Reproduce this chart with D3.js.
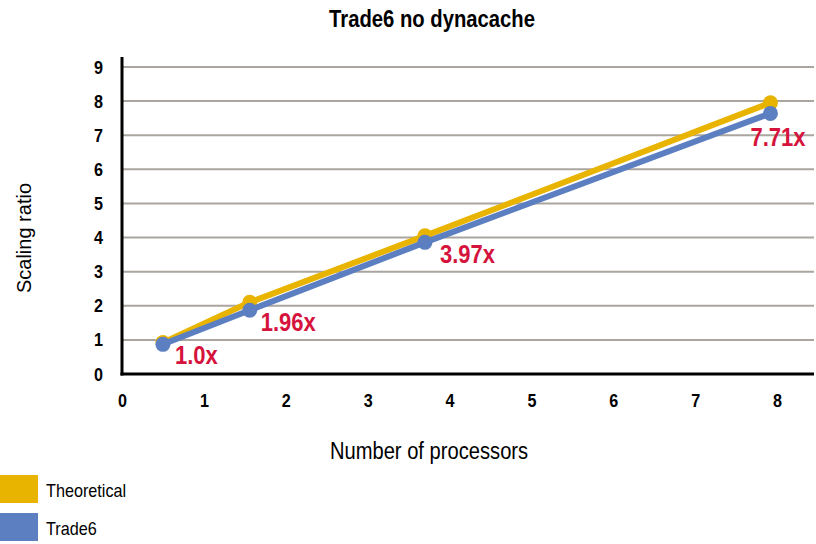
<!DOCTYPE html>
<html>
<head>
<meta charset="utf-8">
<script src="https://cdn.jsdelivr.net/npm/d3@7"></script>
<style>
  body { margin: 0; background: #fff; }
  text { font-family: "Liberation Sans", Arial, sans-serif; }
</style>
</head>
<body>
<div id="chart"></div>
<script>
// data
var processors = [0.5, 1.56, 3.7, 7.92];
var theoretical = [0.92, 2.1, 4.05, 7.95];
var trade6 = [0.87, 1.87, 3.86, 7.64];
var pointLabels = ["1.0x", "1.96x", "3.97x", "7.71x"];
var xTicks = [0, 1, 2, 3, 4, 5, 6, 7, 8];
var yTicks = [0, 1, 2, 3, 4, 5, 6, 7, 8, 9];
var seriesNames = ["Theoretical", "Trade6"];
var seriesColors = ["#e8b400", "#5b7fc1"];

// label placement next to each Trade6 point
var labelDx = [12, 11, 15, 35];
var labelDy = [20, 21, 21, 33];
var labelAnchor = ["start", "start", "start", "end"];

var width = 816, height = 544;
var svg = d3.select("#chart").append("svg")
  .attr("width", width)
  .attr("height", height);

var x = d3.scaleLinear().domain([0, 8]).range([122, 777]);
var y = d3.scaleLinear().domain([0, 9]).range([374, 67]);

// title (narrowed, like the condensed face in the original)
svg.append("text")
  .attr("transform", "translate(432,27) scale(0.88,1)")
  .attr("text-anchor", "middle")
  .style("font-weight", "bold")
  .style("font-size", "23px")
  .text("Trade6 no dynacache");

// gridlines
svg.append("g")
  .selectAll("line")
  .data(yTicks.slice(1))
  .enter()
  .append("line")
    .attr("x1", 122).attr("x2", 814)
    .attr("y1", function(d) { return y(d); })
    .attr("y2", function(d) { return y(d); })
    .style("stroke", "#aaa59f")
    .style("stroke-width", 2);

// y axis
var yAxis = svg.append("g")
  .attr("transform", "translate(122,0)")
  .call(d3.axisLeft(y).tickValues(yTicks).tickSize(0));
yAxis.select(".domain").remove();
yAxis.selectAll("text")
  .attr("x", 0)
  .attr("transform", "translate(-19,0) scale(0.85,1)")
  .style("font-size", "19px")
  .style("font-weight", "bold")
  .style("font-family", "Liberation Sans, Arial, sans-serif")
  .style("fill", "#000");

// x axis
var xAxis = svg.append("g")
  .attr("transform", "translate(0,374)")
  .call(d3.axisBottom(x).tickValues(xTicks).tickSize(0).tickPadding(20));
xAxis.select(".domain").remove();
xAxis.selectAll("text")
  .attr("transform", "scale(0.85,1)")
  .style("font-size", "19px")
  .style("font-weight", "bold")
  .style("font-family", "Liberation Sans, Arial, sans-serif")
  .style("fill", "#000");

// axis lines
svg.append("line")
  .attr("x1", 122).attr("x2", 122).attr("y1", 57).attr("y2", 375.5)
  .style("stroke", "#000").style("stroke-width", 3);
svg.append("line")
  .attr("x1", 120.5).attr("x2", 814).attr("y1", 374).attr("y2", 374)
  .style("stroke", "#000").style("stroke-width", 3);

// axis titles
svg.append("text")
  .attr("transform", "translate(429,459) scale(0.84,1)")
  .attr("text-anchor", "middle")
  .style("font-size", "24px")
  .text("Number of processors");

svg.append("text")
  .attr("transform", "translate(31,238) rotate(-90)")
  .attr("text-anchor", "middle")
  .style("font-size", "20px")
  .text("Scaling ratio");

// series
var series = [theoretical, trade6];
var line = d3.line()
  .x(function(d, i) { return x(processors[i]); })
  .y(function(d) { return y(d); });

series.forEach(function(vals, s) {
  svg.append("path")
    .datum(vals)
    .attr("d", line)
    .style("fill", "none")
    .style("stroke", seriesColors[s])
    .style("stroke-width", 6);
  svg.append("g")
    .selectAll("circle")
    .data(vals)
    .enter()
    .append("circle")
      .attr("cx", function(d, i) { return x(processors[i]); })
      .attr("cy", function(d) { return y(d); })
      .attr("r", 7.5)
      .style("fill", seriesColors[s]);
});

// value labels
svg.append("g")
  .selectAll("text")
  .data(trade6)
  .enter()
  .append("text")
    .attr("transform", function(d, i) {
      return "translate(" + (x(processors[i]) + labelDx[i]) + "," + (y(d) + labelDy[i]) + ") scale(0.88,1)";
    })
    .attr("text-anchor", function(d, i) { return labelAnchor[i]; })
    .style("font-size", "25px")
    .style("font-weight", "bold")
    .style("fill", "#d5133c")
    .text(function(d, i) { return pointLabels[i]; });

// legend
var legend = svg.append("g")
  .selectAll("g")
  .data(seriesNames)
  .enter()
  .append("g")
    .attr("transform", function(d, i) { return "translate(0," + (475 + i * 38) + ")"; });
legend.append("rect")
  .attr("width", 38).attr("height", 28)
  .style("fill", function(d, i) { return seriesColors[i]; });
legend.append("text")
  .attr("transform", "translate(46,22) scale(0.9,1)")
  .style("font-size", "18px")
  .text(function(d) { return d; });
</script>
</body>
</html>
